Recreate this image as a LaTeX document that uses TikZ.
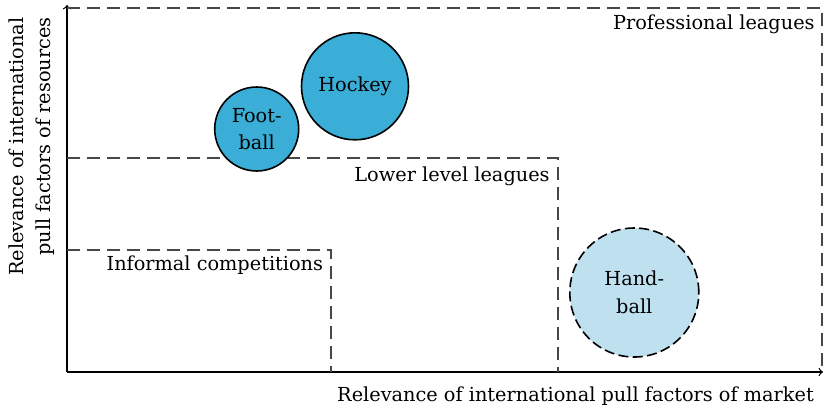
\documentclass[tikz,border=0pt]{standalone}
\usepackage{fontspec}
\setmainfont{DejaVu Serif}
\definecolor{sportblue}{RGB}{58,174,214}
\definecolor{sportlight}{RGB}{191,225,239}
\begin{document}
\begin{tikzpicture}[x=0.5pt, y=-0.5pt,
        font=\fontsize{9.65}{13.8}\selectfont,
        level/.style={draw=black!72, line width=0.6pt, dash pattern=on 6.3pt off 3.7pt},
        levellabel/.style={anchor=base east, inner sep=0pt},
        sport/.style={circle, draw, line width=0.8pt, fill=sportblue, align=center, inner sep=0pt},
        ]
        \useasboundingbox (0,0) rectangle (824,408);
        % axes
        \coordinate (o) at (67,372);
        \coordinate (xend) at (823,372);
        \coordinate (yend) at (67,5);
        \draw[->, line width=0.6pt] (o) -- (xend);
        \draw[->, line width=0.6pt] (o) -- (yend);
        \node[anchor=base, inner sep=0pt] (xlabel) at (575.5,401.7) {Relevance of international pull factors of market};
        \node[rotate=90, align=right, anchor=north east, inner sep=0pt] (ylabel) at (8,17) {Relevance of international\\pull factors of resources};
        % levels
        \draw[level] (67,8) -| (822,372);
        \draw[level] (67,158) -| (558,372);
        \draw[level] (67,250) -| (331,372);
        \node[levellabel] (pro) at (815,29.3) {Professional leagues};
        \node[levellabel] (lower) at (550,181.7) {Lower level leagues};
        \node[levellabel] (informal) at (323.5,270.7) {Informal competitions};
        % sports
        \node[sport, minimum size=42pt] (football) at (256.7,129) {Foot-\\ball};
        \node[sport, minimum size=53.5pt] (hockey) at (355,86.3) {Hockey};
        \node[sport, minimum size=64.5pt, fill=sportlight, dash pattern=on 5pt off 2.2pt] (handball) at (634.3,292.5) {Hand-\\ball};
    \end{tikzpicture}
\end{document}
